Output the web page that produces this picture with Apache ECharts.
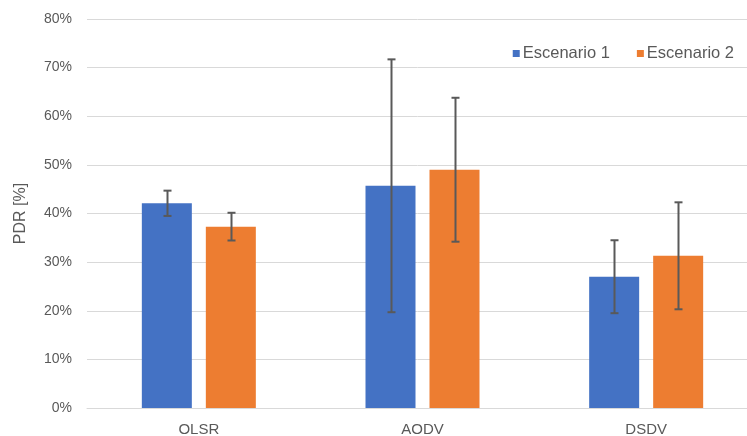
<!DOCTYPE html>
<html>
<head>
<meta charset="utf-8">
<script src="https://cdn.jsdelivr.net/npm/echarts@6/dist/echarts.min.js"></script>
<style>html,body{margin:0;padding:0;background:#fff}#c{width:747px;height:436px}</style>
</head>
<body>
<div id="c"></div>
<script>
const categories = ['OLSR', 'AODV', 'DSDV'];
const seriesNames = ['Escenario 1', 'Escenario 2'];
const esc1Values = [42.1, 45.7, 27.0];
const esc2Values = [37.3, 49.0, 31.3];
const esc1Err = [2.6, 26.0, 7.5];
const esc2Err = [2.85, 14.8, 11.0];
const yTicks = [0, 10, 20, 30, 40, 50, 60, 70, 80];

const colors = ['#4472C4', '#ED7D31'];
const font = '"Liberation Sans", Arial, sans-serif';
const textColor = '#595959';
const BAR_W = 50, GAP = 14;

function errSeries(values, errs, sign) {
  return {
    type: 'custom',
    silent: true,
    z: 10,
    data: values.map((v, i) => [i, v - errs[i], v + errs[i]]),
    renderItem: function (params, api) {
      const lo = api.coord([api.value(0), api.value(1)]);
      const hi = api.coord([api.value(0), api.value(2)]);
      const x = Math.round(lo[0] + sign * (BAR_W + GAP) / 2) + 0.5;
      const cap = 4;
      const style = { stroke: '#595959', lineWidth: 2, fill: null };
      return {
        type: 'group',
        children: [
          { type: 'line', shape: { x1: x, y1: lo[1], x2: x, y2: hi[1] }, style: style },
          { type: 'line', shape: { x1: x - cap, y1: lo[1], x2: x + cap, y2: lo[1] }, style: style },
          { type: 'line', shape: { x1: x - cap, y1: hi[1], x2: x + cap, y2: hi[1] }, style: style }
        ]
      };
    }
  };
}

const chart = echarts.init(document.getElementById('c'));
chart.setOption({
  animation: false,
  textStyle: { fontFamily: font },
  grid: { left: 87, width: 671, top: 19, bottom: 28, outerBoundsMode: 'none', containLabel: false },
  legend: {
    data: seriesNames,
    right: 8, top: 40,
    itemWidth: 7, itemHeight: 7, itemGap: 27,
    icon: 'rect',
    textStyle: { fontFamily: font, fontSize: 16.5, color: textColor, padding: [0, 0, 0, -2] }
  },
  xAxis: {
    type: 'category',
    data: categories,
    axisLine: { show: true, lineStyle: { color: '#d9d9d9', width: 1 } },
    axisTick: { show: false },
    axisLabel: { fontSize: 15, color: textColor, margin: 14, fontFamily: font }
  },
  yAxis: {
    type: 'value',
    min: yTicks[0], max: yTicks[yTicks.length - 1], interval: 10,
    name: 'PDR [%]',
    nameLocation: 'middle',
    nameGap: 58,
    nameTextStyle: { fontSize: 16, color: textColor, fontFamily: font },
    axisLine: { show: false },
    axisTick: { show: false },
    splitLine: { lineStyle: { color: '#d9d9d9', width: 1 } },
    axisLabel: { formatter: '{value}%', fontSize: 14, color: textColor, margin: 15, fontFamily: font }
  },
  series: [
    { name: seriesNames[0], type: 'bar', data: esc1Values, barWidth: BAR_W, barGap: (GAP / BAR_W * 100) + '%', itemStyle: { color: colors[0] } },
    { name: seriesNames[1], type: 'bar', data: esc2Values, barWidth: BAR_W, barGap: (GAP / BAR_W * 100) + '%', itemStyle: { color: colors[1] } },
    errSeries(esc1Values, esc1Err, -1),
    errSeries(esc2Values, esc2Err, 1)
  ]
});
</script>
</body>
</html>
